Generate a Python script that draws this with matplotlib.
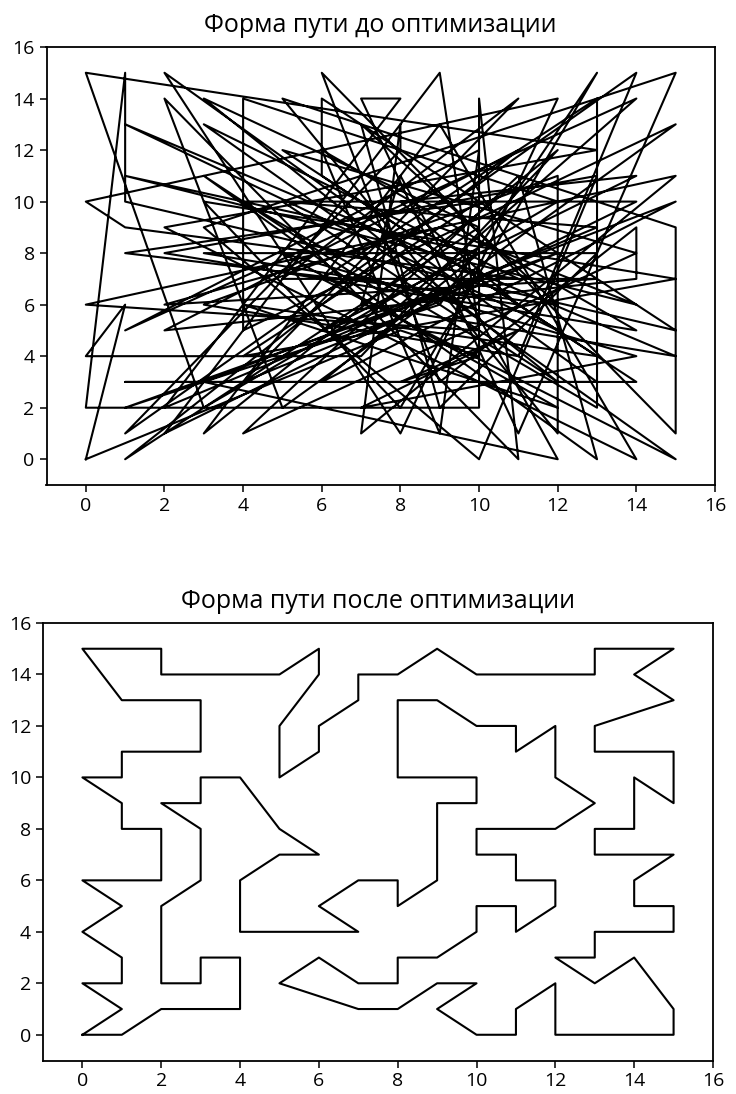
import matplotlib as mpl
mpl.use('Agg')

import numpy as np
import matplotlib.pyplot as plt

plt.rcParams['font.family'] = ['Open Sans', 'DejaVu Sans']

# visiting order of the grid points before optimisation
before_x = [0, 1, 0, 7, 12, 3, 9, 14, 2, 13, 0, 3, 12, 4, 4, 15, 5, 2, 11, 10,
            10, 0, 1, 1, 15, 6, 6, 14, 1, 13, 2, 8, 12, 0, 1, 11, 3, 15, 6, 13,
            13, 4, 14, 2, 9, 10, 0, 15, 7, 8, 8, 1, 14, 11, 3, 12, 12, 5, 15, 15,
            6, 9, 14, 14, 2, 11, 1, 10, 3, 12, 5, 13, 2, 8, 7, 11, 15, 3, 10, 13,
            2, 14, 6, 9, 10, 1, 14, 8, 3, 13, 11, 4, 14, 5, 12, 1, 15, 7, 8, 12,
            3, 15, 6, 10, 1, 14, 9, 2, 13, 5, 11, 4, 12, 1, 9, 13, 8, 3, 15, 4,
            10, 1, 12, 7, 9, 13, 3, 11, 8, 14, 6, 10, 13, 4, 12, 5, 14, 7, 11, 8,
            10, 8]
before_y = [0, 6, 4, 4, 12, 1, 13, 0, 9, 12, 15, 2, 10, 14, 5, 13, 2, 14, 0, 14,
            2, 2, 15, 10, 5, 14, 11, 3, 3, 3, 15, 1, 14, 10, 9, 7, 13, 0, 7, 14,
            2, 10, 10, 1, 15, 5, 6, 11, 1, 13, 12, 1, 15, 4, 6, 11, 1, 14, 9, 1,
            15, 3, 9, 7, 5, 12, 0, 9, 14, 3, 10, 9, 2, 14, 14, 1, 15, 9, 0, 11,
            8, 5, 12, 1, 12, 5, 14, 6, 11, 0, 11, 1, 8, 12, 5, 13, 4, 6, 11, 0,
            3, 10, 3, 8, 11, 6, 9, 6, 7, 7, 14, 3, 8, 2, 6, 15, 2, 10, 7, 4,
            10, 8, 6, 13, 2, 8, 8, 6, 10, 11, 5, 7, 4, 6, 2, 8, 4, 2, 5, 3,
            4, 5]

# visiting order after optimisation
after_x = [0, 1, 2, 3, 4, 4, 3, 3, 2, 2, 3, 3, 2, 3, 3, 4, 5, 6, 5, 4,
           4, 4, 7, 6, 7, 8, 8, 9, 9, 10, 10, 8, 8, 8, 8, 9, 10, 11, 11, 12,
           12, 12, 13, 12, 10, 10, 11, 11, 12, 12, 11, 11, 10, 10, 9, 8, 8, 7, 6, 5,
           7, 8, 9, 10, 9, 10, 11, 11, 12, 12, 12, 13, 14, 15, 15, 14, 13, 12, 13, 13,
           14, 15, 15, 14, 14, 15, 14, 13, 13, 14, 14, 14, 15, 15, 15, 14, 13, 13, 15, 14,
           15, 14, 13, 13, 12, 11, 10, 9, 8, 7, 7, 6, 6, 5, 5, 6, 6, 5, 4, 3,
           2, 2, 1, 0, 1, 3, 3, 1, 1, 0, 1, 1, 2, 2, 1, 0, 1, 0, 1, 1,
           0, 1]
after_y = [0, 0, 1, 1, 1, 3, 3, 2, 2, 5, 6, 8, 9, 9, 10, 10, 8, 7, 7, 6,
           5, 4, 4, 5, 6, 6, 5, 6, 9, 9, 10, 10, 11, 12, 13, 13, 12, 12, 11, 12,
           11, 10, 9, 8, 8, 7, 7, 6, 6, 5, 4, 5, 5, 4, 3, 3, 2, 2, 3, 2,
           1, 1, 2, 2, 1, 0, 0, 1, 2, 1, 0, 0, 0, 0, 1, 3, 2, 3, 3, 4,
           4, 4, 5, 5, 6, 7, 7, 7, 8, 8, 9, 10, 9, 10, 11, 11, 11, 12, 13, 14,
           15, 15, 15, 14, 14, 14, 14, 15, 14, 14, 13, 12, 11, 10, 12, 14, 15, 14, 14, 14,
           14, 15, 15, 15, 13, 13, 11, 11, 10, 10, 9, 8, 8, 6, 6, 6, 5, 4, 3, 2,
           2, 1]


def draw_route(ax, xs, ys, title):
    # close the loop back to the starting point
    xs = np.append(xs, xs[0])
    ys = np.append(ys, ys[0])
    ax.plot(xs, ys, color='black', linewidth=1.5)
    ax.set_title(title, fontsize=18, pad=11)
    ax.set_xlim(-1, 16)
    ax.set_ylim(-1, 16)
    ax.set_xticks(range(0, 17, 2))
    ax.set_yticks(range(0, 17, 2))
    ax.tick_params(labelsize=14, length=5, width=1.1)
    for sp in ax.spines.values():
        sp.set_linewidth(1.3)


fig = plt.figure(figsize=(7.36, 10.94), dpi=100)
ax_before = fig.add_axes([46.5 / 736, 1 - 485 / 1094, (715 - 46.5) / 736, 438 / 1094])
ax_after = fig.add_axes([43 / 736, 1 - 1060.5 / 1094, (713 - 43) / 736, 437.5 / 1094])

draw_route(ax_before, before_x, before_y, "Форма пути до оптимизации")
draw_route(ax_after, after_x, after_y, "Форма пути после оптимизации")

fig.savefig("out.png", dpi=100)
